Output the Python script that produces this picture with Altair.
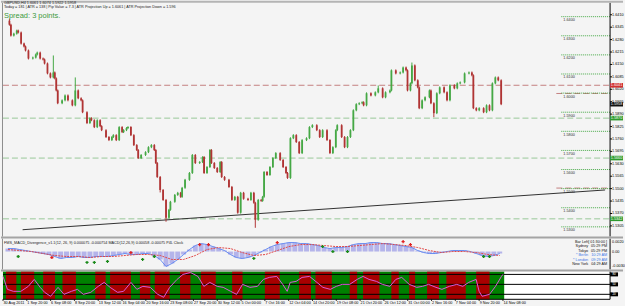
import altair as alt
import pandas as pd

# ---------------- layout constants ----------------
W = 610
H_MAIN, H_MACD, H_OSC = 235, 31, 28
BG = "#f4f4f4"
FONT = "Liberation Sans"
UP, DOWN = "#45a845", "#b03434"
TINY = 3.8

# ---------------- data ----------------
cand_bars = [1,2,4,6,7,9,11,12,14,17,19,20,22,24,25,27,29,31,32,33,34,37,39,41,44,46,48,50,51,54,
             56,57,59,61,63,64,67,69,71,72,74,76,78,79,81,82,84,86,88,89,91,94,96,98,100,101,102,104,106,108,
             110,111,114,116,118,119,121,124,126,128,131,133,134,136,138,139,141,143,145,146,148,151,153,155,157,159,161,164,166,168,
             169,171,173,174,175,177,179,181,183,186,188,190,191,193,195,197,199,201,204,206,208,211,213,215,218,220,222,224,225,228,
             230,232,234,236,238,240,242,243,245,248,251,253,256,258,261,262,265,268,270,272,273,275,276,278,280,281,283,285,288,289,
             291,293,295,298,300,302,305,307,309,312,315,317,318,320,322,325,327,329,331,333,335,337]
cand_close = [1.6358,1.6301,1.6311,1.6327,1.6317,1.6259,1.6244,1.6223,1.6181,1.6186,
              1.6202,1.6212,1.6181,1.6176,1.6155,1.6103,1.6082,1.6108,1.6077,1.6014,
              1.5947,1.5962,1.5988,1.5962,1.5936,1.6014,1.5973,1.5962,1.5900,1.5843,
              1.5869,1.5858,1.5822,1.5858,1.5827,1.5806,1.5770,1.5754,1.5770,1.5780,
              1.5754,1.5822,1.5796,1.5806,1.5817,1.5822,1.5780,1.5728,1.5702,1.5660,
              1.5676,1.5691,1.5717,1.5728,1.5702,1.5634,1.5561,1.5493,1.5441,1.5348,
              1.5389,1.5431,1.5467,1.5478,1.5457,1.5504,1.5546,1.5582,1.5676,1.5634,
              1.5639,1.5665,1.5582,1.5613,1.5702,1.5634,1.5608,1.5587,1.5639,1.5561,
              1.5546,1.5509,1.5441,1.5457,1.5374,1.5478,1.5447,1.5441,1.5478,1.5426,
              1.5337,1.5441,1.5436,1.5457,1.5587,1.5572,1.5613,1.5660,1.5686,1.5650,
              1.5613,1.5582,1.5556,1.5764,1.5780,1.5744,1.5686,1.5754,1.5764,1.5822,
              1.5832,1.5806,1.5770,1.5806,1.5754,1.5686,1.5717,1.5806,1.5832,1.5770,
              1.5717,1.5770,1.5806,1.5910,1.5942,1.5947,1.5952,1.5936,1.5999,1.5988,
              1.6004,1.6025,1.5978,1.6004,1.6014,1.6119,1.6103,1.6108,1.6134,1.6119,
              1.6014,1.6051,1.6145,1.6067,1.6030,1.5921,1.5962,1.5978,1.6014,1.5947,
              1.5895,1.5999,1.6030,1.6004,1.5962,1.6041,1.6025,1.6051,1.6056,1.6103,
              1.6108,1.6093,1.5921,1.5910,1.5921,1.5900,1.5936,1.5910,1.6051,1.6082,
              1.6067,1.5942]
FIRST_OPEN = 1.6379
WICK = 0.0005
spike_high = {1: 1.6390, 31: 1.6197, 46: 1.6082, 253: 1.6040, 276: 1.6160}
spike_low = {104: 1.5480, 108: 1.5327, 169: 1.5295, 291: 1.5874}

full_lines = [1.6041, 1.5869, 1.5660, 1.5342]
full_line_cols = ["#c48080", "#98c898", "#98c898", "#98c898"]
short_red_lines = [1.5998, 1.5503]
round_levels = [1.6400, 1.6300, 1.6200, 1.6100, 1.6000, 1.5900, 1.5800, 1.5700, 1.5600, 1.5500, 1.5400, 1.5300]
price_ticks = [1.6410, 1.6345, 1.6280, 1.6215, 1.6150, 1.6085, 1.6020, 1.5955, 1.5890, 1.5825, 1.5760,
               1.5695, 1.5630, 1.5565, 1.5500, 1.5435, 1.5370, 1.5305]
tag_prices = [1.6041, 1.5942, 1.5869, 1.5660, 1.5342]
tag_texts = ["1.6041", "1.5958", "1.5870", "1.5660", "1.5342"]
tag_cols = ["#d03030", "#101010", "#2e9a2e", "#2e9a2e", "#2e9a2e"]
trend_bars = [10, 408]
trend_prices = [1.5285, 1.5493]

hist = [0.0006,0.0006,0.0004,0.0002,0.0000,-0.0002,-0.0004,-0.0006,-0.0010,-0.0014,
        -0.0012,-0.0012,-0.0010,-0.0012,-0.0012,-0.0010,-0.0010,-0.0010,-0.0008,-0.0006,
        -0.0004,-0.0006,-0.0006,-0.0004,-0.0004,-0.0008,-0.0016,-0.0030,-0.0024,-0.0016,
        -0.0006,0.0004,0.0012,0.0016,0.0014,0.0010,0.0006,0.0002,-0.0006,-0.0012,
        -0.0014,-0.0012,-0.0008,-0.0002,0.0004,0.0010,0.0014,0.0016,0.0018,0.0018,
        0.0016,0.0016,0.0014,0.0012,0.0008,0.0006,0.0008,0.0008,0.0010,0.0014,
        0.0016,0.0016,0.0018,0.0018,0.0016,0.0016,0.0014,0.0012,0.0010,0.0008,
        0.0002,-0.0002,-0.0004,-0.0004,-0.0002,0.0000,0.0002,0.0002,0.0002,0.0000,
        -0.0004,-0.0008,-0.0010,-0.0008,-0.0004]
signal = [0.0004,0.0002,0.0000,-0.0004,-0.0008,-0.0010,-0.0010,-0.0012,-0.0010,-0.0010,
          -0.0008,-0.0006,-0.0006,-0.0008,-0.0016,-0.0016,-0.0008,0.0004,0.0008,0.0006,
          -0.0002,-0.0008,-0.0006,0.0002,0.0010,0.0014,0.0014,0.0012,0.0010,0.0010,
          0.0012,0.0014,0.0016,0.0014,0.0012,0.0008,0.0002,-0.0002,0.0000,0.0000,
          -0.0002,-0.0006,-0.0008]
red_cross_bars = [30, 84, 131, 137, 184, 270, 275]
red_cross_vals = [-0.0012, -0.0002, 0.0014, 0.0014, 0.0018, 0.0020, 0.0014]
green_cross_bars = [7, 54, 59, 68, 92, 100, 168, 215, 222, 232, 325, 329]
green_cross_vals = [-0.0010, -0.0022, -0.0022, -0.0020, -0.0016, -0.0010, -0.0014, 0.0010, 0.0000, 0.0000, -0.0010, -0.0010]
macd_label = "FMS_MACD_Divergence_v1.1(12, 26, 9) 0.000075 -0.000754   MACD(12,26,9) 0.00058 -0.00075   P4L Clock"
clock_names = ["Bar Left", "Sydney", "Tokyo", "* Berlin", "* London", "New York"]
clock_times = ["[ 01:30:00 ]", "05:29 PM", "05:29 PM", "10:29 AM", "09:29 AM", "04:29 AM"]
clock_cols = ["#101010", "#101010", "#101010", "#3a78e8", "#3a78e8", "#101010"]
macd_ticks = [0.0020, 0.0, -0.0030]
macd_tick_txt = ["0.0020", "0.00", "-0.0030"]

osc_bars = [0,3,7,12,17,21,25,28,32,37,41,46,50,54,59,64,68,72,77,81,86,90,94,99,104,108,112,117,121,126,
            131,135,139,144,148,153,157,161,166,171,175,179,184,188,191,193,197,201,206,211,215,220,224,228,233,238,242,246,251,255,
            260,264,268,273,278,282,286,291,295,300,305,309,313,318,320,322,327,331,335,336]
osc_vals = [74,35,29,29,44,65,41,26,14,41,20,29,35,20,26,44,56,41,26,29,56,35,44,41,20,11,41,65,80,86,
            74,44,56,44,41,29,20,50,41,44,65,71,74,50,29,56,59,71,74,56,41,35,44,50,50,65,74,65,59,50,
            44,65,71,50,41,44,50,41,35,44,50,44,56,65,29,14,20,44,74,80]
red_seg_start = [2,12,27,40,62,72,92,102,119,133,154,176,199,210,233,242,261,273,285,298,318]
red_seg_end = [9,21,35,49,69,86,99,112,126,143,161,186,207,221,238,253,266,277,293,311,327]
osc_levels = [80, 50, 20]
last_bar = 337

x_label_bars = list(range(0, 337, 16))
x_labels = ["30 Aug 2011", "1 Sep 20:00", "6 Sep 08:00", "8 Sep 20:00", "13 Sep 12:00", "16 Sep 04:00",
            "20 Sep 16:00", "23 Sep 08:00", "27 Sep 20:00", "30 Sep 12:00", "5 Oct 00:00", "7 Oct 16:00",
            "12 Oct 04:00", "14 Oct 20:00", "19 Oct 08:00", "21 Oct 20:00", "26 Oct 12:00", "31 Oct 00:00",
            "2 Nov 16:00", "7 Nov 04:00", "9 Nov 20:00", "14 Nov 08:00"]

header1 = "GBPUSD,H4  1.6061 1.6074 1.5922 1.5958"
header2 = "Today = 181  |  ATR = 138  |  Pip Value = 7.3  |  ATR Projection Up = 1.6061  |  ATR Projection Down = 1.596"
spread_text = "Spread: 3 points."

# ---------------- build tables ----------------
opens = [FIRST_OPEN] + cand_close[:-1]
rows = []
for b, o, c in zip(cand_bars, opens, cand_close):
    hi = max(max(o, c) + WICK, spike_high.get(b, 0))
    lo = min(min(o, c) - WICK, spike_low.get(b, 9))
    rows.append({"b": b, "o": o, "c": c, "h": hi, "l": lo, "dir": "up" if c >= o else "down"})
candles = pd.DataFrame(rows)

xs = alt.Scale(domain=[0, 408], nice=False, zero=False)
ys_main = alt.Scale(domain=[1.5249, 1.6473], nice=False, zero=False)
ys_macd = alt.Scale(domain=[-0.0036, 0.0026], nice=False, zero=False)
ys_osc = alt.Scale(domain=[5, 89], nice=False, zero=False)
dummy = pd.DataFrame({"d": [0]})


def sep_rule():
    return alt.Chart(dummy).mark_rule(color="#a4a4a4", strokeWidth=2).encode(
        x=alt.value(-2), x2=alt.value(623), y=alt.value(-1))


def axis_line(h):
    return alt.Chart(dummy).mark_rule(color="#000000", strokeWidth=1).encode(
        x=alt.value(W), y=alt.value(0), y2=alt.value(h))


def left_line(h):
    return alt.Chart(dummy).mark_rule(color="#8c8c8c", strokeWidth=1).encode(
        x=alt.value(-0.5), y=alt.value(0), y2=alt.value(h))


# ---------------- main panel ----------------
col_dir = alt.Color("dir:N", scale=alt.Scale(domain=["up", "down"], range=[UP, DOWN]), legend=None)
X = alt.X("b:Q", scale=xs, axis=None)

full_df = pd.DataFrame({"p": full_lines, "col": full_line_cols})
m_full = alt.Chart(full_df).mark_rule(strokeWidth=1, strokeDash=[6, 3]).encode(
    y=alt.Y("p:Q", scale=ys_main, axis=None), x=alt.value(0), x2=alt.value(W),
    color=alt.Color("col:N", scale=None))
m_short = alt.Chart(pd.DataFrame({"p": short_red_lines})).mark_rule(
    strokeWidth=1, strokeDash=[6, 3], color="#c48080").encode(
    y=alt.Y("p:Q", scale=ys_main, axis=None), x=alt.value(556), x2=alt.value(W))
lvl_df = pd.DataFrame({"p": round_levels, "t": [f"{v:.4f}" for v in round_levels]})
m_lvl = alt.Chart(lvl_df).mark_rule(strokeWidth=1, strokeDash=[1, 1], color="#45a845").encode(
    y=alt.Y("p:Q", scale=ys_main, axis=None), x=alt.value(561), x2=alt.value(W))
m_lvl_txt = alt.Chart(lvl_df).mark_text(align="left", baseline="middle", dy=3.5, fontSize=TINY,
                                        font=FONT, color="#303030").encode(
    y=alt.Y("p:Q", scale=ys_main, axis=None), x=alt.value(563), text="t:N")
m_trend = alt.Chart(pd.DataFrame({"b": trend_bars, "p": trend_prices})).mark_line(
    color="#303030", strokeWidth=1).encode(x=X, y=alt.Y("p:Q", scale=ys_main, axis=None))
m_wick = alt.Chart(candles).mark_rule(strokeWidth=1).encode(
    x=X, y=alt.Y("l:Q", scale=ys_main, axis=None), y2="h:Q", color=col_dir)
m_body = alt.Chart(candles).mark_bar(size=1.8).encode(
    x=X, y=alt.Y("o:Q", scale=ys_main, axis=None), y2="c:Q", color=col_dir)
tick_df = pd.DataFrame({"p": price_ticks, "t": [f"{v:.4f}" for v in price_ticks]})
m_ticks = alt.Chart(tick_df).mark_text(align="left", baseline="middle", fontSize=TINY, font=FONT,
                                       color="#000000").encode(
    y=alt.Y("p:Q", scale=ys_main, axis=None), x=alt.value(612), text="t:N")
m_tickmarks = alt.Chart(tick_df).mark_rule(color="#000000").encode(
    y=alt.Y("p:Q", scale=ys_main, axis=None), x=alt.value(W), x2=alt.value(W + 2))
tag_df = pd.DataFrame({"p": tag_prices, "t": tag_texts, "col": tag_cols})
m_tag = alt.Chart(tag_df).transform_calculate(top="datum.p + 0.0012", bot="datum.p - 0.0012").mark_rect().encode(
    y=alt.Y("top:Q", scale=ys_main, axis=None), y2="bot:Q", x=alt.value(W), x2=alt.value(623),
    color=alt.Color("col:N", scale=None))
m_tag_txt = alt.Chart(tag_df).mark_text(align="center", baseline="middle", fontSize=TINY, font=FONT,
                                        color="#ffffff").encode(
    y=alt.Y("p:Q", scale=ys_main, axis=None), x=alt.value(616.5), text="t:N")
m_top = alt.Chart(dummy).mark_rule(color="#b4b4b4", strokeWidth=2).encode(
    x=alt.value(-2), x2=alt.value(623), y=alt.value(-1))
m_h1 = alt.Chart(pd.DataFrame({"t": [header1]})).mark_text(
    align="left", baseline="middle", fontSize=TINY, font=FONT, color="#202020").encode(
    x=alt.value(1), y=alt.value(0.6), text="t:N")
m_h2 = alt.Chart(pd.DataFrame({"t": [header2]})).mark_text(
    align="left", baseline="middle", fontSize=TINY, font=FONT, color="#202020").encode(
    x=alt.value(1), y=alt.value(4.2), text="t:N")
m_spread = alt.Chart(pd.DataFrame({"t": [spread_text]})).mark_text(
    align="left", baseline="middle", fontSize=7.5, font=FONT, color="#3c9a3c").encode(
    x=alt.value(1), y=alt.value(13), text="t:N")

main = alt.layer(m_full, m_short, m_lvl, m_lvl_txt, m_trend, m_wick, m_body, axis_line(H_MAIN),
                 left_line(H_MAIN), m_tickmarks, m_ticks, m_tag, m_tag_txt, m_top, m_h1, m_h2,
                 m_spread).properties(width=W, height=H_MAIN)

# ---------------- MACD panel ----------------
hist_df = pd.DataFrame({"b": list(range(0, 4 * len(hist), 4)), "v": hist})
sig_df = pd.DataFrame({"b": list(range(0, 8 * len(signal), 8)), "v": signal})
YM = alt.Y("v:Q", scale=ys_macd, axis=None)
k_hist = alt.Chart(hist_df).mark_bar(size=5, color="#b4b4ea").encode(x=X, y=YM)
k_line = alt.Chart(hist_df).mark_line(color="#5a82f0", strokeWidth=0.9).encode(x=X, y=YM)
k_sig = alt.Chart(sig_df).mark_line(color="#e04848", strokeWidth=1, strokeDash=[2, 1]).encode(x=X, y=YM)
cross_df = pd.DataFrame({"b": red_cross_bars + green_cross_bars,
                         "v": red_cross_vals + green_cross_vals,
                         "col": ["#e02020"] * len(red_cross_bars) + ["#1a8a1a"] * len(green_cross_bars)})
k_cross = alt.Chart(cross_df).mark_point(shape="cross", size=10, filled=True, opacity=1).encode(
    x=X, y=YM, color=alt.Color("col:N", scale=None))
k_label = alt.Chart(pd.DataFrame({"t": [macd_label]})).mark_text(
    align="left", baseline="middle", fontSize=TINY, font=FONT, color="#202020").encode(
    x=alt.value(1), y=alt.value(4), text="t:N")
clock_df = pd.DataFrame({"n": clock_names, "tm": clock_times, "col": clock_cols,
                         "row": list(range(len(clock_names)))})
row_scale = alt.Scale(domain=[0, H_MACD], range=[0, H_MACD], nice=False)
k_cn = alt.Chart(clock_df).transform_calculate(yy="3 + datum.row * 4.6").mark_text(
    align="right", baseline="middle", fontSize=TINY, font=FONT).encode(
    x=alt.value(588), y=alt.Y("yy:Q", scale=row_scale, axis=None),
    text="n:N", color=alt.Color("col:N", scale=None))
k_ct = alt.Chart(clock_df).transform_calculate(yy="3 + datum.row * 4.6").mark_text(
    align="right", baseline="middle", fontSize=TINY, font=FONT).encode(
    x=alt.value(607), y=alt.Y("yy:Q", scale=row_scale, axis=None),
    text="tm:N", color=alt.Color("col:N", scale=None))
mt_df = pd.DataFrame({"v": macd_ticks, "t": macd_tick_txt})
k_ticks = alt.Chart(mt_df).mark_text(align="left", baseline="middle", fontSize=TINY, font=FONT,
                                     color="#000000").encode(x=alt.value(612), y=YM, text="t:N")

macd = alt.layer(alt.layer(k_hist, k_line, k_sig, k_cross, axis_line(H_MACD), left_line(H_MACD),
                           k_ticks, k_label, sep_rule()),
                 alt.layer(k_cn, k_ct)).resolve_scale(y="independent").properties(width=W, height=H_MACD)

# ---------------- oscillator panel ----------------
bg_df = pd.DataFrame({"s": [0, last_bar], "e": [last_bar, 408], "col": ["#008000", "#ffffff"]})
o_bg = alt.Chart(bg_df).mark_rect().encode(
    x=alt.X("s:Q", scale=xs, axis=None), x2="e:Q", y=alt.value(0), y2=alt.value(H_OSC),
    color=alt.Color("col:N", scale=None))
red_df = pd.DataFrame({"s": red_seg_start, "e": red_seg_end})
o_red = alt.Chart(red_df).mark_rect(color="#a80000").encode(
    x=alt.X("s:Q", scale=xs, axis=None), x2="e:Q", y=alt.value(0), y2=alt.value(H_OSC))
YO = alt.Y("v:Q", scale=ys_osc, axis=None)
lv_df = pd.DataFrame({"v": osc_levels, "t": [str(v) for v in osc_levels]})
o_lv = alt.Chart(lv_df).mark_rule(color="#000000", strokeWidth=1).encode(
    y=YO, x=alt.value(0), x2=alt.value(W))
o_line = alt.Chart(pd.DataFrame({"b": osc_bars, "v": osc_vals})).mark_line(
    color="#d85ad8", strokeWidth=1).encode(x=X, y=YO)
o_tag = alt.Chart(lv_df).transform_calculate(top="datum.v + 6", bot="datum.v - 6").mark_rect(color="#000000").encode(
    y=alt.Y("top:Q", scale=ys_osc, axis=None), y2="bot:Q", x=alt.value(W), x2=alt.value(618))
o_tag_txt = alt.Chart(lv_df).mark_text(align="center", baseline="middle", fontSize=3, font=FONT,
                                       color="#ffffff").encode(y=YO, x=alt.value(614), text="t:N")
xl_df = pd.DataFrame({"b": x_label_bars, "t": x_labels})
o_xl = alt.Chart(xl_df).mark_text(align="left", baseline="middle", fontSize=TINY, font=FONT,
                                  color="#000000", dx=0.5).encode(x=X, y=alt.value(H_OSC + 3.5), text="t:N")
o_xt = alt.Chart(xl_df).mark_rule(color="#000000").encode(x=X, y=alt.value(H_OSC), y2=alt.value(H_OSC + 1.5))
o_bottom = alt.Chart(dummy).mark_rule(color="#000000").encode(
    x=alt.value(0), x2=alt.value(W), y=alt.value(H_OSC))

osc = alt.layer(o_bg, o_red, o_lv, o_line, axis_line(H_OSC), o_tag, o_tag_txt, o_bottom, o_xt, o_xl,
                sep_rule()).properties(width=W, height=H_OSC)

chart = alt.vconcat(main, macd, osc, spacing=2, bounds="flush", padding=0).configure(
    background=BG).configure_view(strokeWidth=0)

chart.save("out.html", embed_options={"renderer": "svg", "actions": False})
